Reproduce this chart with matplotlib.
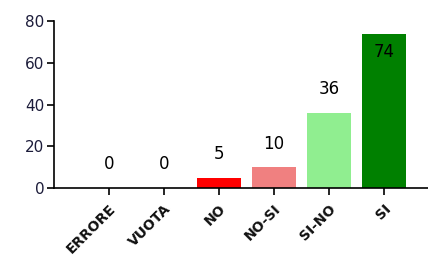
import matplotlib
matplotlib.use('Agg')
import matplotlib.pyplot as plt

# =========================
# DATA
# =========================

categories = ['ERRORE', 'VUOTA', 'NO', 'NO-SI', 'SI-NO', 'SI']
values = [0, 0, 5, 10, 36, 74]
colors = ['#808080', '#808080', '#FF0000', '#F08080', '#90EE90', '#008000']

# =========================
# PLOT
# =========================

fig = plt.figure(figsize=(4.28, 2.63), dpi=100)
ax = fig.add_axes([0.126, 0.285, 0.874, 0.635])

x = list(range(len(categories)))
bars = ax.bar(x, values, width=0.8, color=colors)

ax.set_xlim(-1, 5.8)
ax.set_ylim(0, 80)
ax.set_yticks([0, 20, 40, 60, 80])

ax.spines['top'].set_visible(False)
ax.spines['right'].set_visible(False)
ax.spines['left'].set_linewidth(1.2)
ax.spines['bottom'].set_linewidth(1.2)

ax.tick_params(axis='y', labelsize=11, labelcolor='#1c1c3a', length=5, width=1.2, pad=2)
ax.tick_params(axis='x', length=5, width=1.2, pad=5)

ax.set_xticks(x)
ax.set_xticklabels(categories, rotation=45, ha='right', rotation_mode='anchor',
                   fontsize=10, fontweight='bold', color='#111111')

# value labels
for xi, v in zip(x, values):
    if v > 60:
        ax.annotate(str(v), (xi, v), xytext=(0, -13), textcoords='offset points',
                    ha='center', va='center', fontsize=12)
    else:
        ax.annotate(str(v), (xi, v), xytext=(0, 17), textcoords='offset points',
                    ha='center', va='center', fontsize=12)

fig.savefig('out.png', dpi=100)
